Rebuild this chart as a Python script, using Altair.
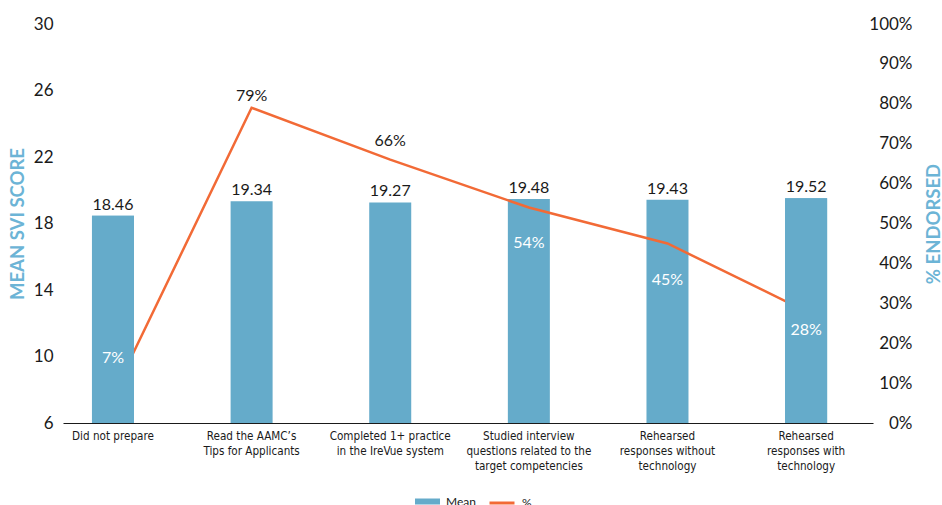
import altair as alt
import pandas as pd

categories = [
    "Did not prepare",
    "Read the AAMC\u2019s\nTips for Applicants",
    "Completed 1+ practice\nin the IreVue system",
    "Studied interview\nquestions related to the\ntarget competencies",
    "Rehearsed\nresponses without\ntechnology",
    "Rehearsed\nresponses with\ntechnology",
]
means = [18.46, 19.34, 19.27, 19.48, 19.43, 19.52]
pcts = [0.07, 0.79, 0.66, 0.54, 0.45, 0.28]
mean_ticks = [6, 10, 14, 18, 22, 26, 30]
pct_ticks = [0, 0.1, 0.2, 0.3, 0.4, 0.5, 0.6, 0.7, 0.8, 0.9, 1.0]

# label styling (offset in px, color) per category
pct_label_dy = [-37, -12, -19, 35, 37, 19]
pct_label_color = ["white", "#1a1a1a", "#1a1a1a", "white", "white", "white"]

BLUE = "#65abca"
ORANGE = "#f26a36"
TITLE_BLUE = "#6cb4d6"
FONT = "Lato"
NARROW = "Liberation Sans Narrow, DejaVu Sans Condensed, Roboto"

df = pd.DataFrame({"cat": categories, "mean": means, "pct": pcts})
base = alt.Chart(df)

X = alt.X(
    "cat:N",
    sort=categories,
    title=None,
    scale=alt.Scale(paddingInner=0.697, paddingOuter=0.27, align=0.387),
    axis=alt.Axis(
        labelAngle=0,
        labelExpr="split(datum.label, '\\n')",
        labelFont=NARROW,
        labelFontSize=11.6,
        labelColor="#1a1a1a",
        labelLineHeight=15,
        labelPadding=7,
        labelBaseline="top",
        ticks=False,
        domainColor="#1a1a1a",
        domainWidth=1.2,
        grid=False,
    ),
)

mean_scale = alt.Scale(domain=[6, 30], zero=False, nice=False)
pct_scale = alt.Scale(domain=[0, 1], zero=False, nice=False)

fill_enc = alt.Fill(
    "k:N",
    scale=alt.Scale(domain=["Mean"], range=[BLUE]),
    legend=alt.Legend(
        title=None, orient="none", legendX=352, legendY=465,
        symbolType="M-1,-0.24H1V0.24H-1Z", symbolSize=625, symbolStrokeWidth=0,
        labelFont=FONT, labelFontSize=12, labelColor="#1a1a1a", labelOffset=6,
    ),
)

bars = base.transform_calculate(k="'Mean'").mark_bar(color=BLUE).encode(
    x=X,
    y=alt.Y(
        "mean:Q",
        scale=mean_scale,
        title="MEAN SVI SCORE",
        axis=alt.Axis(
            values=mean_ticks, grid=False, ticks=False, domain=False,
            labelFont=FONT, labelFontSize=17, labelColor="#1a1a1a", labelPadding=10,
            titleFont=FONT, titleFontSize=18.5, titleFontWeight="bold", titleColor=TITLE_BLUE,
            titleX=-46, titleBaseline="middle", titleAngle=270,
        ),
    ),
    y2=alt.Y2(datum=6),
    fill=fill_enc,
)

mean_labels = base.mark_text(
    font=FONT, fontSize=16, color="#1a1a1a", baseline="alphabetic", dy=-6
).encode(
    x=X,
    y=alt.Y("mean:Q", scale=mean_scale, axis=None),
    text=alt.Text("mean:Q", format=".2f"),
)

line = base.transform_calculate(k="'%'").mark_line(strokeWidth=2.5).encode(
    x=X,
    y=alt.Y(
        "pct:Q",
        scale=pct_scale,
        title="% ENDORSED",
        axis=alt.Axis(
            orient="right", values=pct_ticks, format=".0%", grid=False, ticks=False,
            domain=False, labelFont=FONT, labelFontSize=17, labelColor="#1a1a1a",
            labelAlign="right", labelPadding=39,
            titleFont=FONT, titleFontSize=18.5, titleFontWeight="bold", titleColor=TITLE_BLUE,
            titleX=60, titleBaseline="middle", titleAngle=270,
        ),
    ),
    stroke=alt.Stroke(
        "k:N",
        scale=alt.Scale(domain=["%"], range=[ORANGE]),
        legend=alt.Legend(
            title=None, orient="none", legendX=425, legendY=465,
            symbolType="stroke", symbolSize=625, symbolStrokeWidth=3,
            labelFont=FONT, labelFontSize=12, labelColor="#1a1a1a", labelOffset=6,
        ),
    ),
)

end_bars = base.transform_filter(
    alt.FieldOneOfPredicate(field="cat", oneOf=[categories[0], categories[-1]])
).transform_calculate(k="'Mean'").mark_bar(color=BLUE).encode(
    x=X,
    y=alt.Y("mean:Q", scale=mean_scale, axis=None),
    y2=alt.Y2(datum=6),
    fill=fill_enc,
)

pct_layers = []
for c, dy, col in zip(categories, pct_label_dy, pct_label_color):
    pct_layers.append(
        base.transform_filter(alt.FieldEqualPredicate(field="cat", equal=c))
        .mark_text(font=FONT, fontSize=16, color=col, baseline="middle", dy=dy)
        .encode(
            x=X,
            y=alt.Y("pct:Q", scale=pct_scale, axis=None),
            text=alt.Text("pct:Q", format=".0%"),
        )
    )

chart = (
    alt.layer(bars, mean_labels, line, end_bars, *pct_layers)
    .resolve_scale(y="independent")
    .properties(
        width=810,
        height=399,
        autosize=alt.AutoSizeParams(type="none"),
        padding={"left": 63, "top": 24, "right": 69, "bottom": 82},
        background="white",
    )
    .configure_view(stroke=None)
)

chart.save("out.html", embed_options={"renderer": "svg", "actions": False})
